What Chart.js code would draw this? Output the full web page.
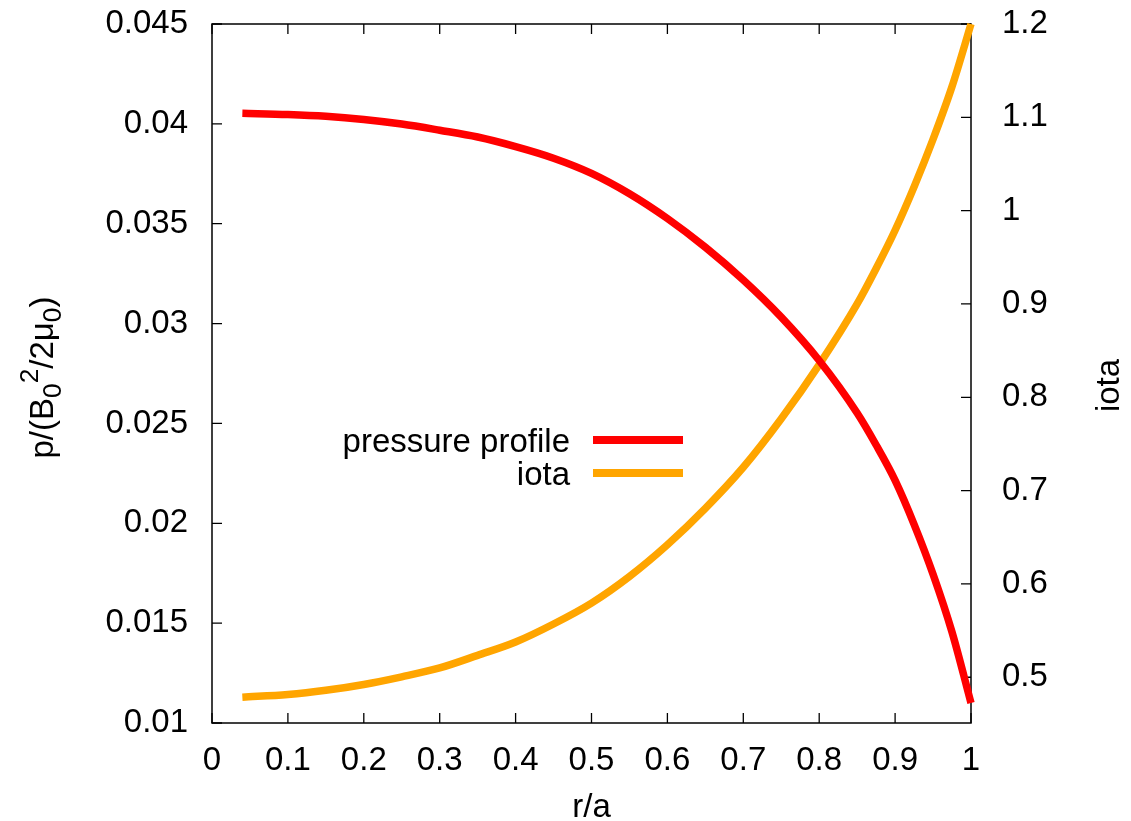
<!DOCTYPE html>
<html>
<head>
<meta charset="utf-8">
<title>pressure and iota profiles</title>
<script src="https://cdn.jsdelivr.net/npm/chart.js@4.4.1/dist/chart.umd.min.js"></script>
<style>
  body { margin: 0; background: #fff; }
  canvas { display: block; }
</style>
</head>
<body>
<canvas id="profiles" width="1131" height="821"></canvas>
<script>
// radial positions r/a of the profile samples
var radius = [0.04, 0.1, 0.15, 0.2, 0.25, 0.3, 0.35, 0.4, 0.45, 0.5, 0.55, 0.6, 0.65,
              0.7, 0.75, 0.8, 0.85, 0.875, 0.9, 0.925, 0.95, 0.975, 1.0];
// normalised pressure p/(B0^2/2mu0), left axis
var pressure = [0.04053, 0.04047, 0.04038, 0.04022, 0.03999, 0.03968, 0.03934, 0.03886,
                0.03828, 0.03752, 0.03650, 0.03526, 0.03382, 0.03218, 0.03032, 0.02815,
                0.02552, 0.02392, 0.02215, 0.01995, 0.01745, 0.01455, 0.01100];
// rotational transform, right axis
var iota = [0.4787, 0.4815, 0.4860, 0.4923, 0.5005, 0.5100, 0.5235, 0.5378, 0.5571,
            0.5795, 0.6080, 0.6420, 0.6810, 0.7250, 0.7770, 0.8350, 0.9000, 0.9380,
            0.9790, 1.0255, 1.0765, 1.1330, 1.2000];

var xTicks = [0, 0.1, 0.2, 0.3, 0.4, 0.5, 0.6, 0.7, 0.8, 0.9, 1];
var yTicks = [0.01, 0.015, 0.02, 0.025, 0.03, 0.035, 0.04, 0.045];
var y2Ticks = [0.5, 0.6, 0.7, 0.8, 0.9, 1, 1.1, 1.2];

var FONT = '"Liberation Sans", Arial, Helvetica, sans-serif';
var SIZE = 33;

function pts(ys) {
  var out = [];
  for (var i = 0; i < radius.length; i++) out.push({ x: radius[i], y: ys[i] });
  return out;
}

function fixedTicks(list) {
  return function (scale) {
    scale.ticks = list.map(function (v) { return { value: v }; });
  };
}

// fixed box sizes, no extra room for overhanging labels
function fitBox(w, h) {
  return function (scale) {
    if (w !== null) scale.width = w;
    if (h !== null) scale.height = h;
    scale.paddingTop = 0;
    scale.paddingBottom = 0;
    scale.paddingLeft = 0;
    scale.paddingRight = 0;
  };
}

// gnuplot style frame, inward ticks, axis titles and key
var gnuplotLook = {
  id: 'gnuplotLook',
  beforeDatasetsDraw: function (chart) {
    var ctx = chart.ctx, a = chart.chartArea, s = chart.scales;
    ctx.save();
    ctx.strokeStyle = '#000';
    ctx.lineWidth = 1.5;
    ctx.strokeRect(a.left, a.top, a.right - a.left, a.bottom - a.top);
    ctx.lineWidth = 1.3;
    ctx.beginPath();
    xTicks.forEach(function (v) {
      var px = s.x.getPixelForValue(v);
      ctx.moveTo(px, a.bottom); ctx.lineTo(px, a.bottom - 10);
      ctx.moveTo(px, a.top); ctx.lineTo(px, a.top + 10);
    });
    yTicks.forEach(function (v) {
      var py = s.y.getPixelForValue(v);
      ctx.moveTo(a.left, py); ctx.lineTo(a.left + 10, py);
    });
    y2Ticks.forEach(function (v) {
      var py = s.y2.getPixelForValue(v);
      ctx.moveTo(a.right, py); ctx.lineTo(a.right - 10, py);
    });
    ctx.stroke();
    ctx.restore();
  },
  afterDraw: function (chart) {
    var ctx = chart.ctx, a = chart.chartArea;
    var midY = (a.top + a.bottom) / 2;
    ctx.save();
    ctx.fillStyle = '#000';
    ctx.font = SIZE + 'px ' + FONT;

    // x title
    ctx.textAlign = 'center';
    ctx.textBaseline = 'alphabetic';
    ctx.fillText('r/a', (a.left + a.right) / 2, 817);

    // right title
    ctx.save();
    ctx.translate(1119, midY + 12);
    ctx.rotate(-Math.PI / 2);
    ctx.fillText('iota', 0, 0);
    ctx.restore();

    // left title with sub/superscripts
    var parts = [
      ['p/(B', 0, 1], ['0', 0.25, 0.8], ['2', -0.45, 0.8],
      ['/2\u03bc', 0, 1], ['0', 0.25, 0.8], [')', 0, 1]
    ];
    var total = 0;
    parts.forEach(function (p) {
      ctx.font = (SIZE * p[2]) + 'px ' + FONT;
      total += ctx.measureText(p[0]).width;
    });
    ctx.save();
    ctx.translate(53, midY + 4);
    ctx.rotate(-Math.PI / 2);
    ctx.textAlign = 'left';
    var cx = -total / 2;
    parts.forEach(function (p) {
      ctx.font = (SIZE * p[2]) + 'px ' + FONT;
      ctx.fillText(p[0], cx, p[1] * SIZE);
      cx += ctx.measureText(p[0]).width;
    });
    ctx.restore();

    // key
    ctx.font = SIZE + 'px ' + FONT;
    ctx.textAlign = 'right';
    chart.data.datasets.forEach(function (ds, i) {
      var ly = 440 + i * 33;
      ctx.fillStyle = '#000';
      ctx.fillText(ds.label, 570, ly + 12);
      ctx.strokeStyle = ds.borderColor;
      ctx.lineWidth = 8;
      ctx.beginPath();
      ctx.moveTo(593, ly);
      ctx.lineTo(683, ly);
      ctx.stroke();
    });
    ctx.restore();
  }
};

var ctx = document.getElementById('profiles').getContext('2d');
new Chart(ctx, {
  type: 'line',
  data: {
    datasets: [
      {
        label: 'pressure profile',
        data: pts(pressure),
        yAxisID: 'y',
        borderColor: '#ff0000',
        borderWidth: 7.5,
        pointRadius: 0,
        cubicInterpolationMode: 'monotone',
        clip: false
      },
      {
        label: 'iota',
        data: pts(iota),
        yAxisID: 'y2',
        borderColor: '#ffa500',
        borderWidth: 7.5,
        pointRadius: 0,
        cubicInterpolationMode: 'monotone',
        clip: false
      }
    ]
  },
  options: {
    responsive: false,
    animation: false,
    layout: { padding: { top: 24, left: 0, right: 0, bottom: 0 } },
    plugins: { legend: { display: false }, tooltip: { enabled: false } },
    scales: {
      x: {
        type: 'linear',
        min: 0,
        max: 1,
        grid: { display: false },
        border: { display: false },
        afterBuildTicks: fixedTicks(xTicks),
        afterFit: fitBox(null, 98),
        ticks: {
          color: '#000',
          padding: 10,
          maxRotation: 0,
          font: { family: FONT, size: SIZE },
          callback: function (v) { return String(v); }
        }
      },
      y: {
        position: 'left',
        min: 0.01,
        max: 0.045,
        grid: { display: false },
        border: { display: false },
        afterBuildTicks: fixedTicks(yTicks),
        afterFit: fitBox(212, null),
        ticks: {
          color: '#000',
          padding: 16,
          font: { family: FONT, size: SIZE },
          callback: function (v) { return String(v); }
        }
      },
      y2: {
        position: 'right',
        min: 0.451,
        max: 1.2,
        grid: { display: false },
        border: { display: false },
        afterBuildTicks: fixedTicks(y2Ticks),
        afterFit: fitBox(160, null),
        ticks: {
          color: '#000',
          padding: 23,
          font: { family: FONT, size: SIZE },
          callback: function (v) { return String(v); }
        }
      }
    }
  },
  plugins: [gnuplotLook]
});
</script>
</body>
</html>
